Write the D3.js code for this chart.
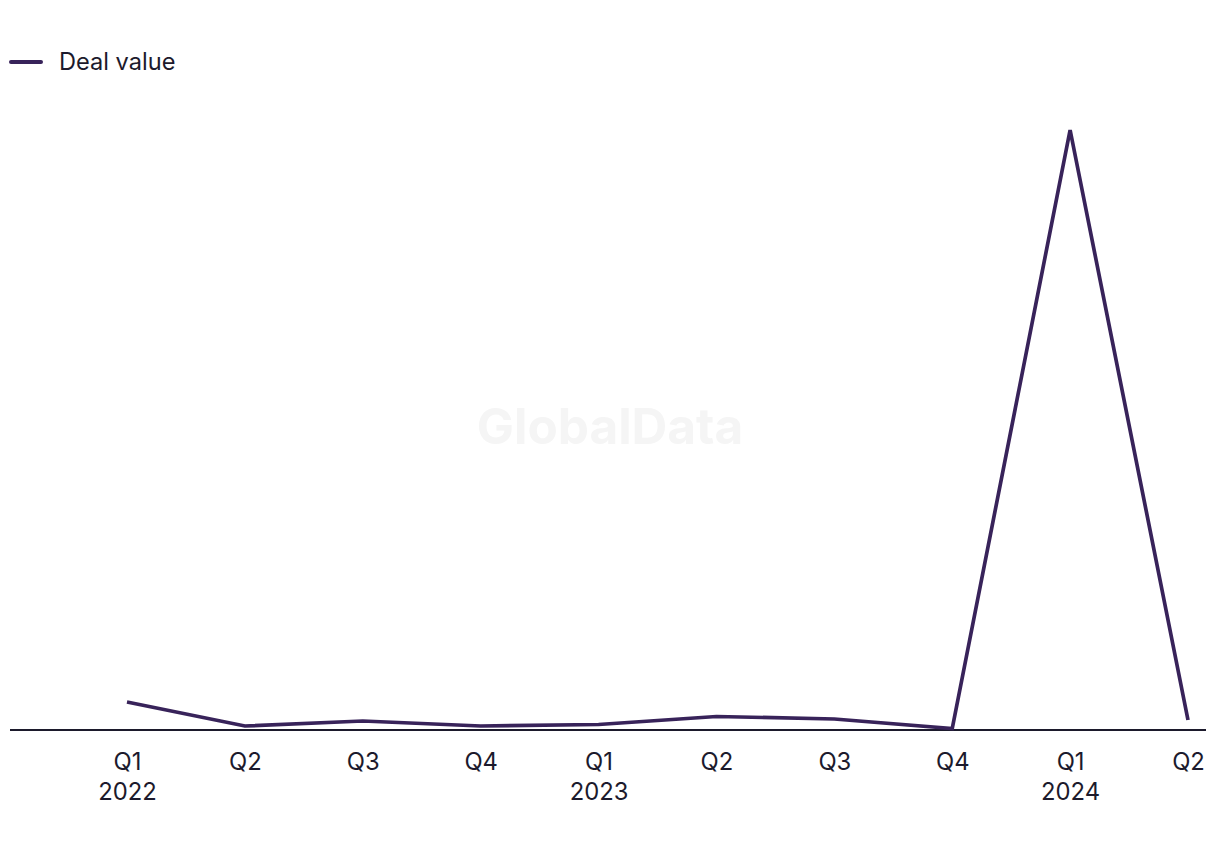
<!DOCTYPE html>
<html><head><meta charset="utf-8">
<script src="https://cdn.jsdelivr.net/npm/d3@7"></script>
<style>body{margin:0;background:#fff}svg{display:block}</style>
</head><body>
<svg id="c" width="1220" height="850"></svg>
<script>
const quarters = ["Q1","Q2","Q3","Q4","Q1","Q2","Q3","Q4","Q1","Q2"];
const years = ["2022","","","","2023","","","","2024",""];
const dealValue = [28, 4, 9, 4, 5.5, 13.5, 11, 1.5, 600, 10];
const seriesName = "Deal value";

const svg = d3.select("#c");
const font = "Inter, 'Liberation Sans', sans-serif";
const lineColor = "#38235a";
const textColor = "#1c1a2c";
const keys = quarters.map((q,i)=>i);

const x = d3.scalePoint().domain(keys).range([127, 1188]);
const y = d3.scaleLinear().domain([0, d3.max(dealValue)]).range([730, 130]);

// watermark
svg.append("text").attr("x", 610).attr("y", 444).attr("text-anchor","middle")
  .attr("font-family", font).attr("font-weight", 700).attr("font-size", 49.5)
  .attr("fill", "#f5f5f5").text("GlobalData");

// axis
const ax = svg.append("g").attr("transform","translate(0,730)")
  .call(d3.axisBottom(x).tickSize(0).tickFormat(i=>quarters[i]));
ax.select(".domain").remove();
ax.append("line").attr("x1",10).attr("x2",1206).attr("stroke",textColor).attr("stroke-width",2);
ax.selectAll(".tick text").remove();
ax.selectAll(".tick").each(function(i){
  const t = d3.select(this).append("text").attr("fill",textColor)
    .attr("font-family",font).attr("font-size",23.8).attr("text-anchor","middle");
  t.append("tspan").attr("x",0).attr("y",39.5).text(quarters[i]);
  if (years[i]) t.append("tspan").attr("x",0).attr("y",70).text(years[i]);
});

// line
svg.append("path").datum(dealValue)
  .attr("d", d3.line().x((d,i)=>x(i)).y(d=>y(d)))
  .attr("fill","none").attr("stroke",lineColor).attr("stroke-width",3.7)
  .attr("stroke-linejoin","miter");

// legend
svg.append("line").attr("x1",11).attr("x2",41).attr("y1",62).attr("y2",62)
  .attr("stroke",lineColor).attr("stroke-width",4).attr("stroke-linecap","round");
svg.append("text").attr("x",59).attr("y",69.5).attr("font-family",font).attr("font-size",23.6)
  .attr("fill",textColor).text(seriesName);
</script>
</body></html>
